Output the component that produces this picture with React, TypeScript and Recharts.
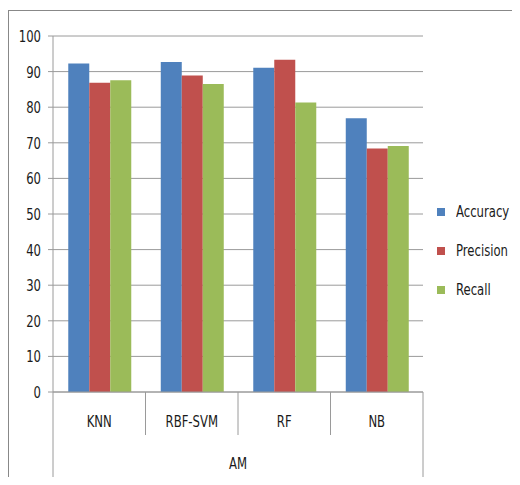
import { BarChart, Bar, XAxis, YAxis, CartesianGrid, Legend } from 'recharts';

const models = ['KNN', 'RBF-SVM', 'RF', 'NB'];
const accuracy = [92.3, 92.7, 91.1, 76.9];
const precision = [86.9, 88.9, 93.3, 68.4];
const recall = [87.6, 86.5, 81.3, 69.1];
const yTicks = [0, 10, 20, 30, 40, 50, 60, 70, 80, 90, 100];
const groupLabel = 'AM';

const series = [
  { key: 'Accuracy', color: '#4F81BD' },
  { key: 'Precision', color: '#C0504D' },
  { key: 'Recall', color: '#9BBB59' },
];

const chartData = models.map((m, i) => ({
  model: m,
  Accuracy: accuracy[i],
  Precision: precision[i],
  Recall: recall[i],
}));

const FONT = '"DejaVu Sans Condensed", "Liberation Sans", sans-serif';
const LINE = '#9a9a9a';
const SQUEEZE = 0.81;
const TEXT = '#1a1a1a';

// narrow text, the original uses a condensed font
function NarrowText({ x, y, anchor, children }: any) {
  return (
    <text
      transform={`translate(${x} ${y}) scale(${SQUEEZE} 1)`}
      textAnchor={anchor}
      dominantBaseline="central"
      fontSize={16}
      fill={TEXT}
      fontFamily={FONT}
    >
      {children}
    </text>
  );
}

function CategoryTick(props: any) {
  const { x, y, payload, index, width } = props;
  const n = models.length;
  const half = payload?.offset || (width ? width / (2 * n) : 46);
  const left = x - half;
  const right = x + half;
  return (
    <g>
      <line x1={left} y1={y} x2={left} y2={y + (index === 0 ? 86 : 43)} stroke={LINE} />
      {index === n - 1 && <line x1={right} y1={y} x2={right} y2={y + 86} stroke={LINE} />}
      <NarrowText x={x} y={y + 29} anchor="middle">
        {payload.value}
      </NarrowText>
    </g>
  );
}

function ValueTick(props: any) {
  const { x, y, payload } = props;
  return (
    <NarrowText x={x} y={y} anchor="end">
      {payload.value}
    </NarrowText>
  );
}

function GroupLabel(props: any) {
  const { viewBox } = props;
  return (
    <NarrowText x={viewBox.x + viewBox.width / 2} y={viewBox.y + viewBox.height - 15} anchor="middle">
      {groupLabel}
    </NarrowText>
  );
}

function LegendContent() {
  return (
    <div style={{ fontFamily: FONT, fontSize: 16, color: TEXT }}>
      {series.map((s) => (
        <div key={s.key} style={{ display: 'flex', alignItems: 'center', height: 39, whiteSpace: 'nowrap' }}>
          <span
            style={{ display: 'inline-block', flexShrink: 0, width: 8, height: 8, background: s.color, marginRight: 11 }}
          />
          <span style={{ display: 'inline-block', transform: `scaleX(${SQUEEZE})`, transformOrigin: 'left center' }}>
            {s.key}
          </span>
        </div>
      ))}
    </div>
  );
}

function App() {
  return (
    <div
      style={{
        position: 'relative',
        top: 2,
        width: 512,
        height: 468,
        borderTop: '1px solid #888',
        borderLeft: '1px solid #888',
      }}
    >
      <BarChart
        width={511}
        height={470}
        data={chartData}
        margin={{ top: 25, right: 97, left: 0, bottom: 3 }}
        barCategoryGap="16.5%"
        barGap={0}
      >
        <CartesianGrid vertical={false} stroke={LINE} />
        <XAxis
          dataKey="model"
          height={86}
          axisLine={{ stroke: LINE }}
          tickLine={false}
          tickSize={0}
          tickMargin={0}
          tick={<CategoryTick />}
          interval={0}
          label={<GroupLabel />}
        />
        <YAxis
          width={44}
          domain={[0, 100]}
          ticks={yTicks}
          interval={0}
          axisLine={{ stroke: LINE }}
          tickLine={{ stroke: LINE }}
          tickSize={5}
          tickMargin={7}
          tick={<ValueTick />}
        />
        <Legend
          layout="vertical"
          align="center"
          verticalAlign="middle"
          content={<LegendContent />}
          wrapperStyle={{ left: 428, top: 181, width: 100 }}
        />
        {series.map((s) => (
          <Bar key={s.key} dataKey={s.key} fill={s.color} isAnimationActive={false} />
        ))}
      </BarChart>
    </div>
  );
}

export default App;
